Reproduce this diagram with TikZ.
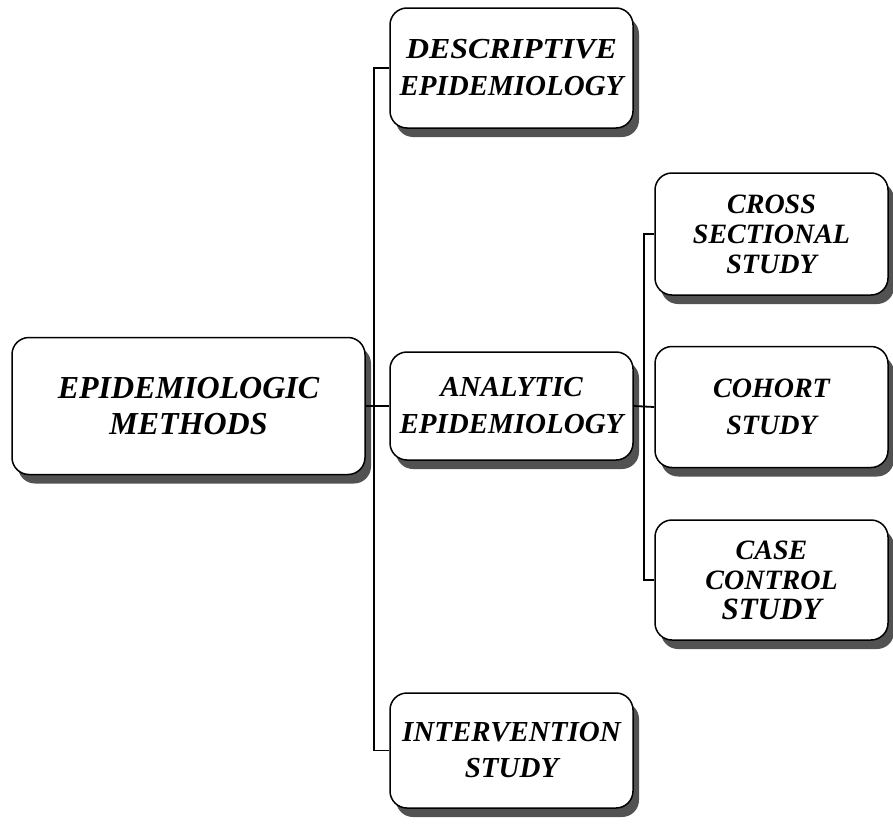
\documentclass[tikz,border=0pt]{standalone}
\usepackage{fontspec}
\setmainfont{Liberation Serif}
\usetikzlibrary{shadows}

\tikzset{
  box/.style={
    draw=black, line width=1.5pt, fill=white,
    rounded corners=17pt, inner sep=0pt, align=center,
    font=\bfseries\itshape,
    drop shadow={shadow xshift=6pt, shadow yshift=-9pt,
                 fill=black!68, opacity=1}
  },
  link/.style={draw=black, line width=1.8pt}
}
% a word set a little wider than the font's own width
\newcommand{\widerword}[2]{\scalebox{#1}[1]{#2}}

\begin{document}
\begin{tikzpicture}[x=1pt, y=-1pt]
  \useasboundingbox (0,0) rectangle (893,827);

  % root of the tree
  \node[box, minimum width=353pt, minimum height=137pt,
        font=\bfseries\itshape\fontsize{32}{36}\selectfont]
    (main) at (188.5,406) {EPIDEMIOLOGIC\\METHODS};

  % second level
  \node[box, minimum width=243pt, minimum height=120pt,
        font=\bfseries\itshape\fontsize{29}{37}\selectfont]
    (desc) at (511.5,68) {\widerword{1.1}{DESCRIPTIVE}\\EPIDEMIOLOGY};
  \node[box, minimum width=243pt, minimum height=108pt,
        font=\bfseries\itshape\fontsize{29}{37}\selectfont]
    (anal) at (511.5,406) {ANALYTIC\\EPIDEMIOLOGY};
  \node[box, minimum width=243pt, minimum height=115pt,
        font=\bfseries\itshape\fontsize{29}{36}\selectfont]
    (interv) at (511.5,750.5) {INTERVENTION\\STUDY};

  % third level
  \node[box, minimum width=233pt, minimum height=122pt,
        font=\bfseries\itshape\fontsize{28}{30}\selectfont]
    (cross) at (771.5,234) {CROSS\\SECTIONAL\\STUDY};
  \node[box, minimum width=233pt, minimum height=121pt,
        font=\bfseries\itshape\fontsize{28}{37}\selectfont]
    (cohort) at (771.5,407) {COHORT\\STUDY};
  \node[box, minimum width=233pt, minimum height=120pt,
        font=\bfseries\itshape\fontsize{28}{30}\selectfont]
    (case) at (771.5,580) {CASE\\CONTROL\\{\fontsize{31}{30}\selectfont STUDY}};

  % connectors
  \draw[link] (desc.west) -- ++(-15,0) |- (interv.west);
  \draw[link] (main.east) -- (anal.west);
  \draw[link] (cross.west) -- ++(-10,0) |- (case.west);
  \draw[link] (anal.east) -- (cohort.west);
\end{tikzpicture}
\end{document}
